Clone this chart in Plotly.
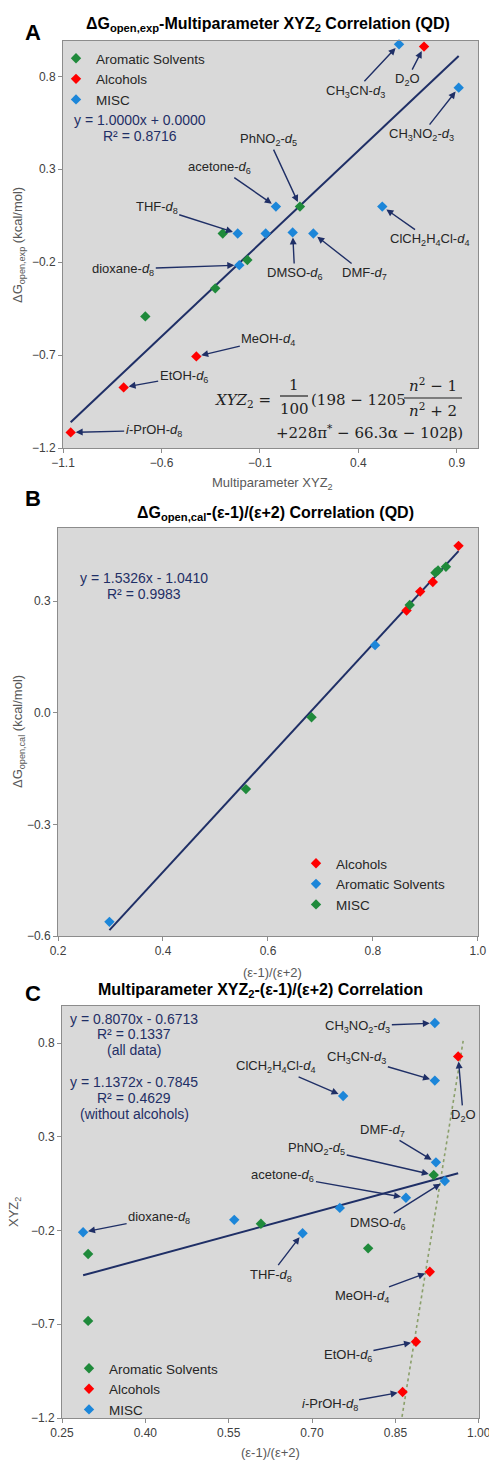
import numpy as np
import plotly.graph_objects as go

W, H = 489, 1460

# ---- panel A: dG_open,exp vs multiparameter XYZ2 ----
a_arom_x = [0.103, -0.289, -0.164, -0.327, -0.682]
a_arom_y = [0.099, -0.046, -0.188, -0.341, -0.492]
a_alc_x = [0.733, -0.423, -0.792, -1.061]
a_alc_y = [0.960, -0.707, -0.874, -1.116]
a_misc_x = [0.606, 0.909, -0.019, 0.521, -0.213, -0.071, 0.066, 0.171, -0.205]
a_misc_y = [0.972, 0.739, 0.099, 0.099, -0.046, -0.046, -0.040, -0.046, -0.216]
a_fit = (1.0000, 0.0000)

# ---- panel B: dG_open,cal vs (e-1)/(e+2) ----
b_alc_x = [0.864, 0.890, 0.914, 0.963]
b_alc_y = [0.275, 0.326, 0.352, 0.449]
b_arom_x = [0.298, 0.804]
b_arom_y = [-0.562, 0.182]
b_misc_x = [0.558, 0.683, 0.870, 0.919, 0.924, 0.939]
b_misc_y = [-0.205, -0.012, 0.290, 0.377, 0.383, 0.393]
b_fit = (1.5326, -1.0410)

# ---- panel C: XYZ2 vs (e-1)/(e+2) ----
c_arom_x = [0.919, 0.608, 0.801, 0.297, 0.297]
c_arom_y = [0.096, -0.164, -0.295, -0.325, -0.682]
c_alc_x = [0.963, 0.912, 0.887, 0.863]
c_alc_y = [0.729, -0.420, -0.793, -1.061]
c_misc_x = [0.921, 0.921, 0.756, 0.923, 0.939, 0.869, 0.750, 0.288, 0.560, 0.683]
c_misc_y = [0.907, 0.600, 0.518, 0.164, 0.064, -0.025, -0.079, -0.209, -0.143, -0.214]
c_fit = (0.8070, -0.6713)
c_alc_trend_x = [0.855, 0.972]

GREEN, RED, BLUE = "#1f8a3b", "#ff0000", "#1c86d9"
NAVY = "#1f2f66"
FONT = "Liberation Sans, Arial, sans-serif"


def px(x):
    return x / W


def py(y):
    return 1 - y / H


fig = go.Figure()


def pts(x, y, name, color, xa, ya, leg):
    fig.add_trace(go.Scatter(x=x, y=y, mode="markers", name=name, xaxis=xa, yaxis=ya,
                             legend=leg, cliponaxis=False,
                             marker=dict(symbol="diamond", size=8, color=color)))


def fitline(xs, coef, xa, ya, **line):
    xl = np.array([min(xs), max(xs)])
    fig.add_trace(go.Scatter(x=xl, y=coef[0] * xl + coef[1], mode="lines", showlegend=False,
                             xaxis=xa, yaxis=ya, line=line))


# A
fitline(a_arom_x + a_alc_x + a_misc_x, a_fit, "x", "y", color=NAVY, width=2)
pts(a_arom_x, a_arom_y, "Aromatic Solvents", GREEN, "x", "y", "legend")
pts(a_alc_x, a_alc_y, "Alcohols", RED, "x", "y", "legend")
pts(a_misc_x, a_misc_y, "MISC", BLUE, "x", "y", "legend")

# B
fitline(b_alc_x + b_arom_x + b_misc_x, b_fit, "x2", "y2", color=NAVY, width=2)
pts(b_alc_x, b_alc_y, "Alcohols", RED, "x2", "y2", "legend2")
pts(b_arom_x, b_arom_y, "Aromatic Solvents", BLUE, "x2", "y2", "legend2")
pts(b_misc_x, b_misc_y, "MISC", GREEN, "x2", "y2", "legend2")

# C
alc_coef = np.polyfit(c_alc_x, c_alc_y, 1)
fitline(c_alc_trend_x, alc_coef, "x3", "y3", color="#8a9f6a", width=1.6, dash="dot")
fitline(c_arom_x + c_alc_x + c_misc_x, c_fit, "x3", "y3", color=NAVY, width=2)
pts(c_arom_x, c_arom_y, "Aromatic Solvents", GREEN, "x3", "y3", "legend3")
pts(c_alc_x, c_alc_y, "Alcohols", RED, "x3", "y3", "legend3")
pts(c_misc_x, c_misc_y, "MISC", BLUE, "x3", "y3", "legend3")

axis = dict(showgrid=False, zeroline=False, showline=True, linecolor="#8c8c8c", mirror=True,
            ticks="outside", ticklen=4, tickcolor="#8c8c8c", automargin=False,
            ticklabeloverflow="allow", tickfont=dict(size=12, color="#404040"))

legend = dict(xanchor="left", yanchor="top", bgcolor="rgba(0,0,0,0)", itemwidth=30,
              font=dict(size=13.5, color="#262626"), tracegroupgap=0)

fig.update_layout(
    width=W, height=H, margin=dict(l=0, r=0, t=0, b=0),
    paper_bgcolor="white", plot_bgcolor="#d9d9d9",
    font=dict(family=FONT, color="#262626"),
    xaxis=dict(axis, domain=[px(63), px(478)], anchor="y", range=[-1.1, 1.007],
               tick0=-1.1, dtick=0.5, tickformat=".1f"),
    yaxis=dict(axis, domain=[py(448), py(41)], anchor="x", range=[-1.2, 0.99],
               tick0=-1.2, dtick=0.5, tickformat=".1f"),
    xaxis2=dict(axis, domain=[px(58), px(478)], anchor="y2", range=[0.2, 1.0001],
                tick0=0.2, dtick=0.2, tickformat=".1f"),
    yaxis2=dict(axis, domain=[py(936), py(528)], anchor="x2", range=[-0.6, 0.497],
                tick0=-0.6, dtick=0.3, tickformat=".1f"),
    xaxis3=dict(axis, domain=[px(62), px(479)], anchor="y3", range=[0.25, 1.0005],
                tick0=0.25, dtick=0.15, tickformat=".2f"),
    yaxis3=dict(axis, domain=[py(1418), py(1006)], anchor="x3", range=[-1.2, 0.998],
                tick0=-1.2, dtick=0.5, tickformat=".1f"),
    legend=dict(legend, x=px(56), y=py(43)),
    legend2=dict(legend, x=px(296), y=py(848)),
    legend3=dict(legend, x=px(69), y=py(1353)),
)

ann = []


def text(x, y, s, size=13, color="#595959", bold=False, angle=0, xanchor="center", family=FONT):
    if bold:
        s = "<b>" + s + "</b>"
    ann.append(dict(x=px(x), y=py(y), xref="paper", yref="paper", text=s, showarrow=False,
                    textangle=angle, xanchor=xanchor, yanchor="middle",
                    font=dict(size=size, color=color, family=family)))


# panel letters and titles
text(33, 32, "A", 22, "#000", True)
text(33, 498, "B", 22, "#000", True)
text(33, 993, "C", 22, "#000", True)
text(268, 24, "ΔG<sub>open,exp</sub>-Multiparameter XYZ<sub>2</sub> Correlation (QD)", 16, "#000", True)
text(275, 513, "ΔG<sub>open,cal</sub>-(ε-1)/(ε+2) Correlation (QD)", 16, "#000", True)
text(260, 991, "Multiparameter XYZ<sub>2</sub>-(ε-1)/(ε+2) Correlation", 16, "#000", True)

# axis titles
text(272, 483, "Multiparameter XYZ<sub>2</sub>")
text(18, 245, "ΔG<sub>open,exp</sub> (kcal/mol)", angle=-90)
text(272, 972, "(ε-1)/(ε+2)")
text(18, 732, "ΔG<sub>open,cal</sub> (kcal/mol)", angle=-90)
text(270, 1452, "(ε-1)/(ε+2)")
text(14, 1212, "XYZ<sub>2</sub>", angle=-90)

# regression equations
text(140, 120, "y = 1.0000x + 0.0000", 14, NAVY)
text(140, 136, "R² = 0.8716", 14, NAVY)
text(144, 578, "y = 1.5326x - 1.0410", 14, NAVY)
text(144, 594, "R² = 0.9983", 14, NAVY)
for yy, s in zip([1019, 1034, 1050, 1082, 1098, 1114],
                 ["y = 0.8070x - 0.6713", "R² = 0.1337", "(all data)",
                  "y = 1.1372x - 0.7845", "R² = 0.4629", "(without alcohols)"]):
    text(134, yy, s, 14, NAVY)

# XYZ2 formula (panel A)
SERIF = "DejaVu Serif, Liberation Serif, serif"
INK = "#222"
text(243, 400, "<i>XYZ</i><sub>2</sub> =", 15, INK, family=SERIF)
text(294, 385, "1", 15, INK, family=SERIF)
text(294, 409, "100", 15, INK, family=SERIF)
text(309, 400, "(198 − 1205", 15, INK, xanchor="left", family=SERIF)
text(433, 385, "<i>n</i><sup>2</sup> − 1", 15, INK, family=SERIF)
text(433, 410, "<i>n</i><sup>2</sup> + 2", 15, INK, family=SERIF)
text(465, 432, "+228π<sup>*</sup> − 66.3α − 102β)", 15, INK, xanchor="right", family=SERIF)
for x0, x1, y0 in [(280, 308, 396), (404, 462, 398)]:
    fig.add_shape(type="line", xref="paper", yref="paper", x0=px(x0), x1=px(x1),
                  y0=py(y0), y1=py(y0), line=dict(color=INK, width=1.2))

# labelled arrows
d = "-<i>d</i><sub>{}</sub>"
a_series = {"arom": (a_arom_x, a_arom_y), "alc": (a_alc_x, a_alc_y), "misc": (a_misc_x, a_misc_y)}
c_series = {"arom": (c_arom_x, c_arom_y), "alc": (c_alc_x, c_alc_y), "misc": (c_misc_x, c_misc_y)}

a_labels = [
    ("CH<sub>3</sub>CN" + d.format(3), "misc", 0, -44, 47),
    ("D<sub>2</sub>O", "alc", 0, -17, 33),
    ("CH<sub>3</sub>NO<sub>2</sub>" + d.format(3), "misc", 1, -37, 47),
    ("PhNO<sub>2</sub>" + d.format(5), "arom", 0, -31, -67),
    ("acetone" + d.format(6), "misc", 2, -56, -39),
    ("THF" + d.format(8), "misc", 4, -81, -26),
    ("ClCH<sub>2</sub>H<sub>4</sub>Cl" + d.format(4), "misc", 3, 47, 33),
    ("DMSO" + d.format(6), "misc", 6, 2, 41),
    ("DMF" + d.format(7), "misc", 7, 51, 40),
    ("dioxane" + d.format(8), "misc", 8, -116, 4),
    ("MeOH" + d.format(4), "alc", 1, 72, -17),
    ("EtOH" + d.format(6), "alc", 2, 60, -11),
    ("<i>i</i>-PrOH" + d.format(8), "alc", 3, 83, -2),
]
c_labels = [
    ("CH<sub>3</sub>NO<sub>2</sub>" + d.format(3), "misc", 0, -77, 3),
    ("CH<sub>3</sub>CN" + d.format(3), "misc", 1, -78, -23),
    ("ClCH<sub>2</sub>H<sub>4</sub>Cl" + d.format(4), "misc", 2, -68, -29),
    ("D<sub>2</sub>O", "alc", 0, 5, 59),
    ("DMF" + d.format(7), "misc", 3, -53, -32),
    ("PhNO<sub>2</sub>" + d.format(5), "arom", 0, -117, -27),
    ("acetone" + d.format(6), "misc", 5, -123, -22),
    ("DMSO" + d.format(6), "misc", 4, -67, 42),
    ("dioxane" + d.format(8), "misc", 7, 76, -15),
    ("THF" + d.format(8), "misc", 9, -32, 42),
    ("MeOH" + d.format(4), "alc", 1, -68, 25),
    ("EtOH" + d.format(6), "alc", 2, -68, 14),
    ("<i>i</i>-PrOH" + d.format(8), "alc", 3, -73, 13),
]

for labels, series, xr, yr in [(a_labels, a_series, "x", "y"), (c_labels, c_series, "x3", "y3")]:
    for s, key, i, ax, ay in labels:
        xs, ys = series[key]
        ann.append(dict(x=xs[i], y=ys[i], xref=xr, yref=yr, text=s, showarrow=True,
                        ax=ax, ay=ay, arrowhead=2, arrowsize=1, arrowwidth=1.4,
                        arrowcolor=NAVY, standoff=5, font=dict(size=13, color="#262626")))

fig.update_layout(annotations=ann)
fig.write_html("out.html", config={"displayModeBar": False},
               post_script="document.body.style.margin='0';document.body.style.overflow='hidden';")
